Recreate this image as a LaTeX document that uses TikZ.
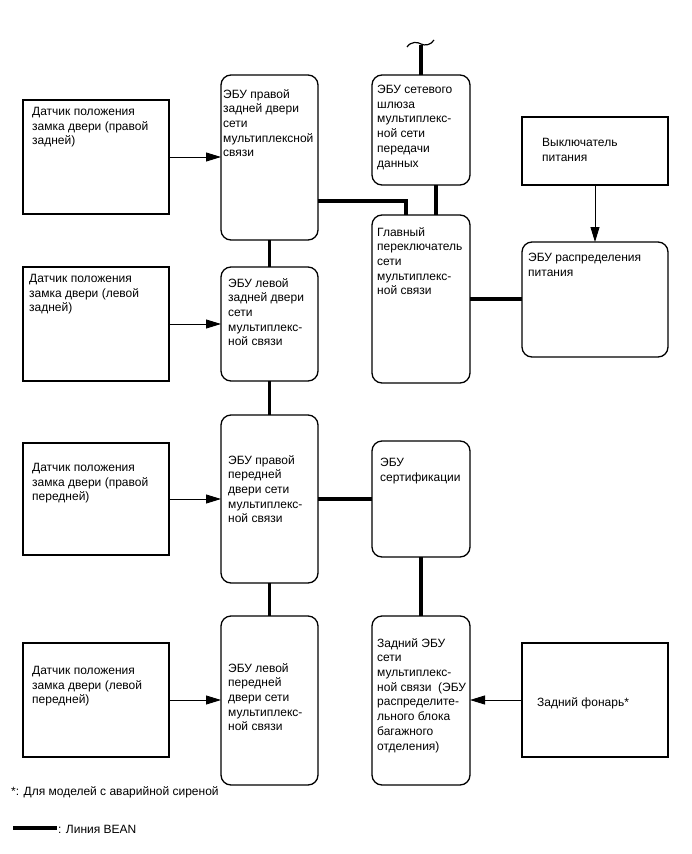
\documentclass[tikz,border=0pt]{standalone}
\usepackage{fontspec}
\setmainfont{Liberation Sans}
\usetikzlibrary{arrows.meta}
\begin{document}
\begin{tikzpicture}[x=1pt,y=-1pt,
  plainbox/.style={draw,line width=1.3pt,inner sep=0pt,outer sep=0pt,rectangle},
  ecubox/.style={plainbox,rounded corners=10pt},
  txt/.style={anchor=north west,inner sep=0pt,align=left,font=\fontsize{12}{14.7}\selectfont},
  sig/.style={line width=0.9pt,-{Triangle[length=15pt,width=9pt]}},
  bean/.style={line width=3.8pt}]
\useasboundingbox (0,0) rectangle (691,854);
% boxes
\node[plainbox,minimum width=146pt,minimum height=114pt] (s1) at (96,157) {};
\node[ecubox,minimum width=97pt,minimum height=165pt] (rr) at (269.5,157.5) {};
\node[ecubox,minimum width=98pt,minimum height=110pt] (gw) at (421,130) {};
\node[plainbox,minimum width=146pt,minimum height=68pt] (pw) at (595,151) {};
\node[ecubox,minimum width=98pt,minimum height=168pt] (ms) at (421,299) {};
\node[ecubox,minimum width=146pt,minimum height=115pt] (pd) at (595,299.5) {};
\node[plainbox,minimum width=146pt,minimum height=114pt] (s2) at (96,324) {};
\node[ecubox,minimum width=97pt,minimum height=114pt] (lr) at (269.5,324) {};
\node[plainbox,minimum width=146pt,minimum height=112pt] (s3) at (96,499) {};
\node[ecubox,minimum width=97pt,minimum height=168pt] (rf) at (269.5,499) {};
\node[ecubox,minimum width=98pt,minimum height=116pt] (ce) at (421,499) {};
\node[plainbox,minimum width=146pt,minimum height=114pt] (s4) at (96,700) {};
\node[ecubox,minimum width=97pt,minimum height=169pt] (lf) at (269.5,700.5) {};
\node[ecubox,minimum width=98pt,minimum height=169pt] (re) at (421,700.5) {};
\node[plainbox,minimum width=146pt,minimum height=114pt] (tl) at (595,700) {};
% texts
\node[txt] (t1) at (32,107) {Датчик положения\\замка двери (правой\\задней)};
\node[txt] (t2) at (223,89) {ЭБУ правой\\задней двери\\сети\\мультиплексной\\связи};
\node[txt] (t3) at (377,85) {ЭБУ сетевого\\шлюза\\мультиплекс-\\ной сети\\передачи\\данных};
\node[txt] (t4) at (542,138) {Выключатель\\питания};
\node[txt] (t5) at (377,227) {Главный\\переключатель\\сети\\мультиплекс-\\ной связи};
\node[txt] (t6) at (528,253) {ЭБУ распределения\\питания};
\node[txt] (t7) at (29,274) {Датчик положения\\замка двери (левой\\задней)};
\node[txt] (t8) at (228,278) {ЭБУ левой\\задней двери\\сети\\мультиплекс-\\ной связи};
\node[txt] (t9) at (32,463) {Датчик положения\\замка двери (правой\\передней)};
\node[txt] (t10) at (228,455) {ЭБУ правой\\передней\\двери сети\\мультиплекс-\\ной связи};
\node[txt] (t11) at (380,458) {ЭБУ\\сертификации};
\node[txt] (t12) at (32,666) {Датчик положения\\замка двери (левой\\передней)};
\node[txt] (t13) at (228,663) {ЭБУ левой\\передней\\двери сети\\мультиплекс-\\ной связи};
\node[txt] (t14) at (377,638) {Задний ЭБУ\\сети\\мультиплекс-\\ной связи\ \ (ЭБУ\\распределите-\\льного блока\\багажного\\отделения)};
\node[txt] (t15) at (537,697) {Задний фонарь*};
\node[txt] (t16) at (11,786) {*: Для моделей с аварийной сиреной};
\node[txt] (t17) at (58,825) {: Линия BEAN};
% signal arrows
\draw[sig] (s1.east) -- (s1.east -| rr.west);
\draw[sig] (s2.east) -- (s2.east -| lr.west);
\draw[sig] (s3.east) -- (s3.east -| rf.west);
\draw[sig] (s4.east) -- (s4.east -| lf.west);
\draw[sig] (tl.west) -- (tl.west -| re.east);
\draw[sig] (pw.south) -- (pw.south |- pd.north);
% BEAN lines
\coordinate (j1) at (406,201);
\coordinate (j2) at (436,200);
\coordinate (top) at (421,45);
\draw[bean] (j1 -| rr.east) -- (j1) -- (j1 |- ms.north);
\draw[bean] (j2 |- gw.south) -- (j2 |- ms.north);
\draw[bean] (gw.north) -- (top);
\draw[line width=1.2pt] (407,47) .. controls (411,41) and (418,42) .. (421,44) .. controls (425,46) and (431,45) .. (434,40);
\draw[bean] (ms.east) -- (ms.east -| pd.west);
\draw[bean] (rf.east) -- (rf.east -| ce.west);
\draw[bean] (ce.south) -- (ce.south |- re.north);
\draw[bean] (rr.south) -- (rr.south |- lr.north);
\draw[bean] (lr.south) -- (lr.south |- rf.north);
\draw[bean] (rf.south) -- (rf.south |- lf.north);
\coordinate (la) at (13,828);
\coordinate (lb) at (57,828);
\draw[bean] (la) -- (lb);
\end{tikzpicture}
\end{document}
